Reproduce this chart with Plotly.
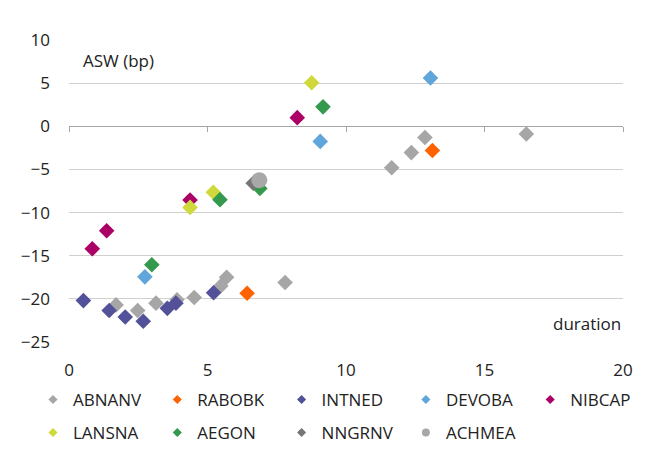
import plotly.graph_objects as go

# ---- data (duration, ASW in bp) ----
names = ["ABNANV", "RABOBK", "INTNED", "DEVOBA", "NIBCAP",
         "LANSNA", "AEGON", "NNGRNV", "ACHMEA"]

abnanv_x = [1.70, 2.48, 3.14, 3.90, 4.52, 5.48, 5.69, 7.80, 11.65, 12.36, 12.85, 16.51]
abnanv_y = [-20.7, -21.35, -20.5, -20.1, -19.85, -18.5, -17.5, -18.1, -4.8, -3.05, -1.3, -0.9]
rabobk_x = [6.43, 13.12]
rabobk_y = [-19.35, -2.8]
intned_x = [0.52, 1.45, 2.03, 2.68, 3.55, 3.86, 5.22]
intned_y = [-20.2, -21.35, -22.1, -22.6, -21.1, -20.5, -19.3]
devoba_x = [2.74, 9.07, 13.05]
devoba_y = [-17.45, -1.75, 5.6]
nibcap_x = [0.84, 1.36, 4.37, 8.24]
nibcap_y = [-14.2, -12.1, -8.55, 1.0]
lansna_x = [4.37, 5.21, 8.76]
lansna_y = [-9.4, -7.65, 5.05]
aegon_x = [2.99, 5.45, 6.89, 9.17]
aegon_y = [-16.05, -8.5, -7.2, 2.25]
nngrnv_x = [6.65]
nngrnv_y = [-6.6]
achmea_x = [6.87]
achmea_y = [-6.25]

xs = [abnanv_x, rabobk_x, intned_x, devoba_x, nibcap_x, lansna_x, aegon_x, nngrnv_x, achmea_x]
ys = [abnanv_y, rabobk_y, intned_y, devoba_y, nibcap_y, lansna_y, aegon_y, nngrnv_y, achmea_y]

colors = ["#A6A6A6", "#FF6200", "#525199", "#60A6DA", "#AB0066",
          "#D0D93C", "#34994C", "#767676", "#A8A8A8"]
symbols = ["diamond"] * 8 + ["circle"]
sizes = [12] * 8 + [16]

x_ticks = [0, 5, 10, 15, 20]
y_ticks = [10, 5, 0, -5, -10, -15, -20, -25]

FONT = "Open Sans"
TXT = "#222222"
W, H = 662, 470

fig = go.Figure()
for i, n in enumerate(names):
    fig.add_trace(go.Scatter(
        x=xs[i], y=ys[i], mode="markers", name=n, showlegend=False,
        marker=dict(symbol=symbols[i], size=sizes[i], color=colors[i], line=dict(width=0)),
        hoverinfo="x+y+name"))

# one small legend per entry, laid out in a 5-column grid
legend_layout = {}
for i, n in enumerate(names):
    key = "legend" if i == 0 else f"legend{i + 1}"
    fig.add_trace(go.Scatter(
        x=[None], y=[None], mode="markers", name=n, showlegend=True,
        legend=key,
        marker=dict(symbol=symbols[i], size=7 if symbols[i] == "diamond" else 8,
                    color=colors[i], line=dict(width=0))))
    col, row = i % 5, i // 5
    legend_layout[key] = dict(
        xref="container", yref="container",
        x=(33 + col * 124.3) / W, y=1 - (400 + row * 33) / H,
        xanchor="left", yanchor="middle",
        font=dict(family=FONT, size=17, color=TXT),
        bgcolor="rgba(0,0,0,0)", borderwidth=0, itemclick=False)

# trace for the zero-crossing axis line
fig.add_trace(go.Scatter(x=[None], y=[None], xaxis="x2", yaxis="y",
                         showlegend=False, hoverinfo="skip"))

fig.update_layout(
    width=W, height=H,
    margin=dict(l=69, r=38.5, t=39.5, b=128.3, autoexpand=False),
    paper_bgcolor="white", plot_bgcolor="white",
    font=dict(family=FONT, size=17, color=TXT),
    xaxis=dict(range=[0, 20], tickvals=x_ticks, showgrid=False, zeroline=False,
               showline=False, ticks="", ticklabelstandoff=16,
               tickfont=dict(family=FONT, size=17, color=TXT)),
    xaxis2=dict(range=[0, 20], overlaying="x", anchor="free",
                position=25 / 35, tickvals=x_ticks, showticklabels=False,
                showgrid=False, zeroline=False, showline=True,
                linecolor="#A6A6A6", linewidth=1, ticks="outside",
                ticklen=5, tickcolor="#A6A6A6", tickwidth=1),
    yaxis=dict(range=[-25, 10], tickvals=y_ticks, showgrid=True,
               gridcolor="#D0D0D0", gridwidth=1, zeroline=False, showline=False,
               ticks="", ticklabelstandoff=18,
               tickfont=dict(family=FONT, size=17, color=TXT)),
    annotations=[
        dict(text="ASW (bp)", xref="paper", yref="paper", x=12 / 554.5, y=1 - 21 / 302.2,
             xanchor="left", yanchor="middle", showarrow=False,
             font=dict(family=FONT, size=17, color=TXT)),
        dict(text="duration", xref="paper", yref="paper", x=1.0, y=18.5 / 302.2,
             xanchor="right", yanchor="middle", showarrow=False,
             font=dict(family=FONT, size=17, color=TXT)),
    ],
    **legend_layout,
)

fig.write_html("out.html")
